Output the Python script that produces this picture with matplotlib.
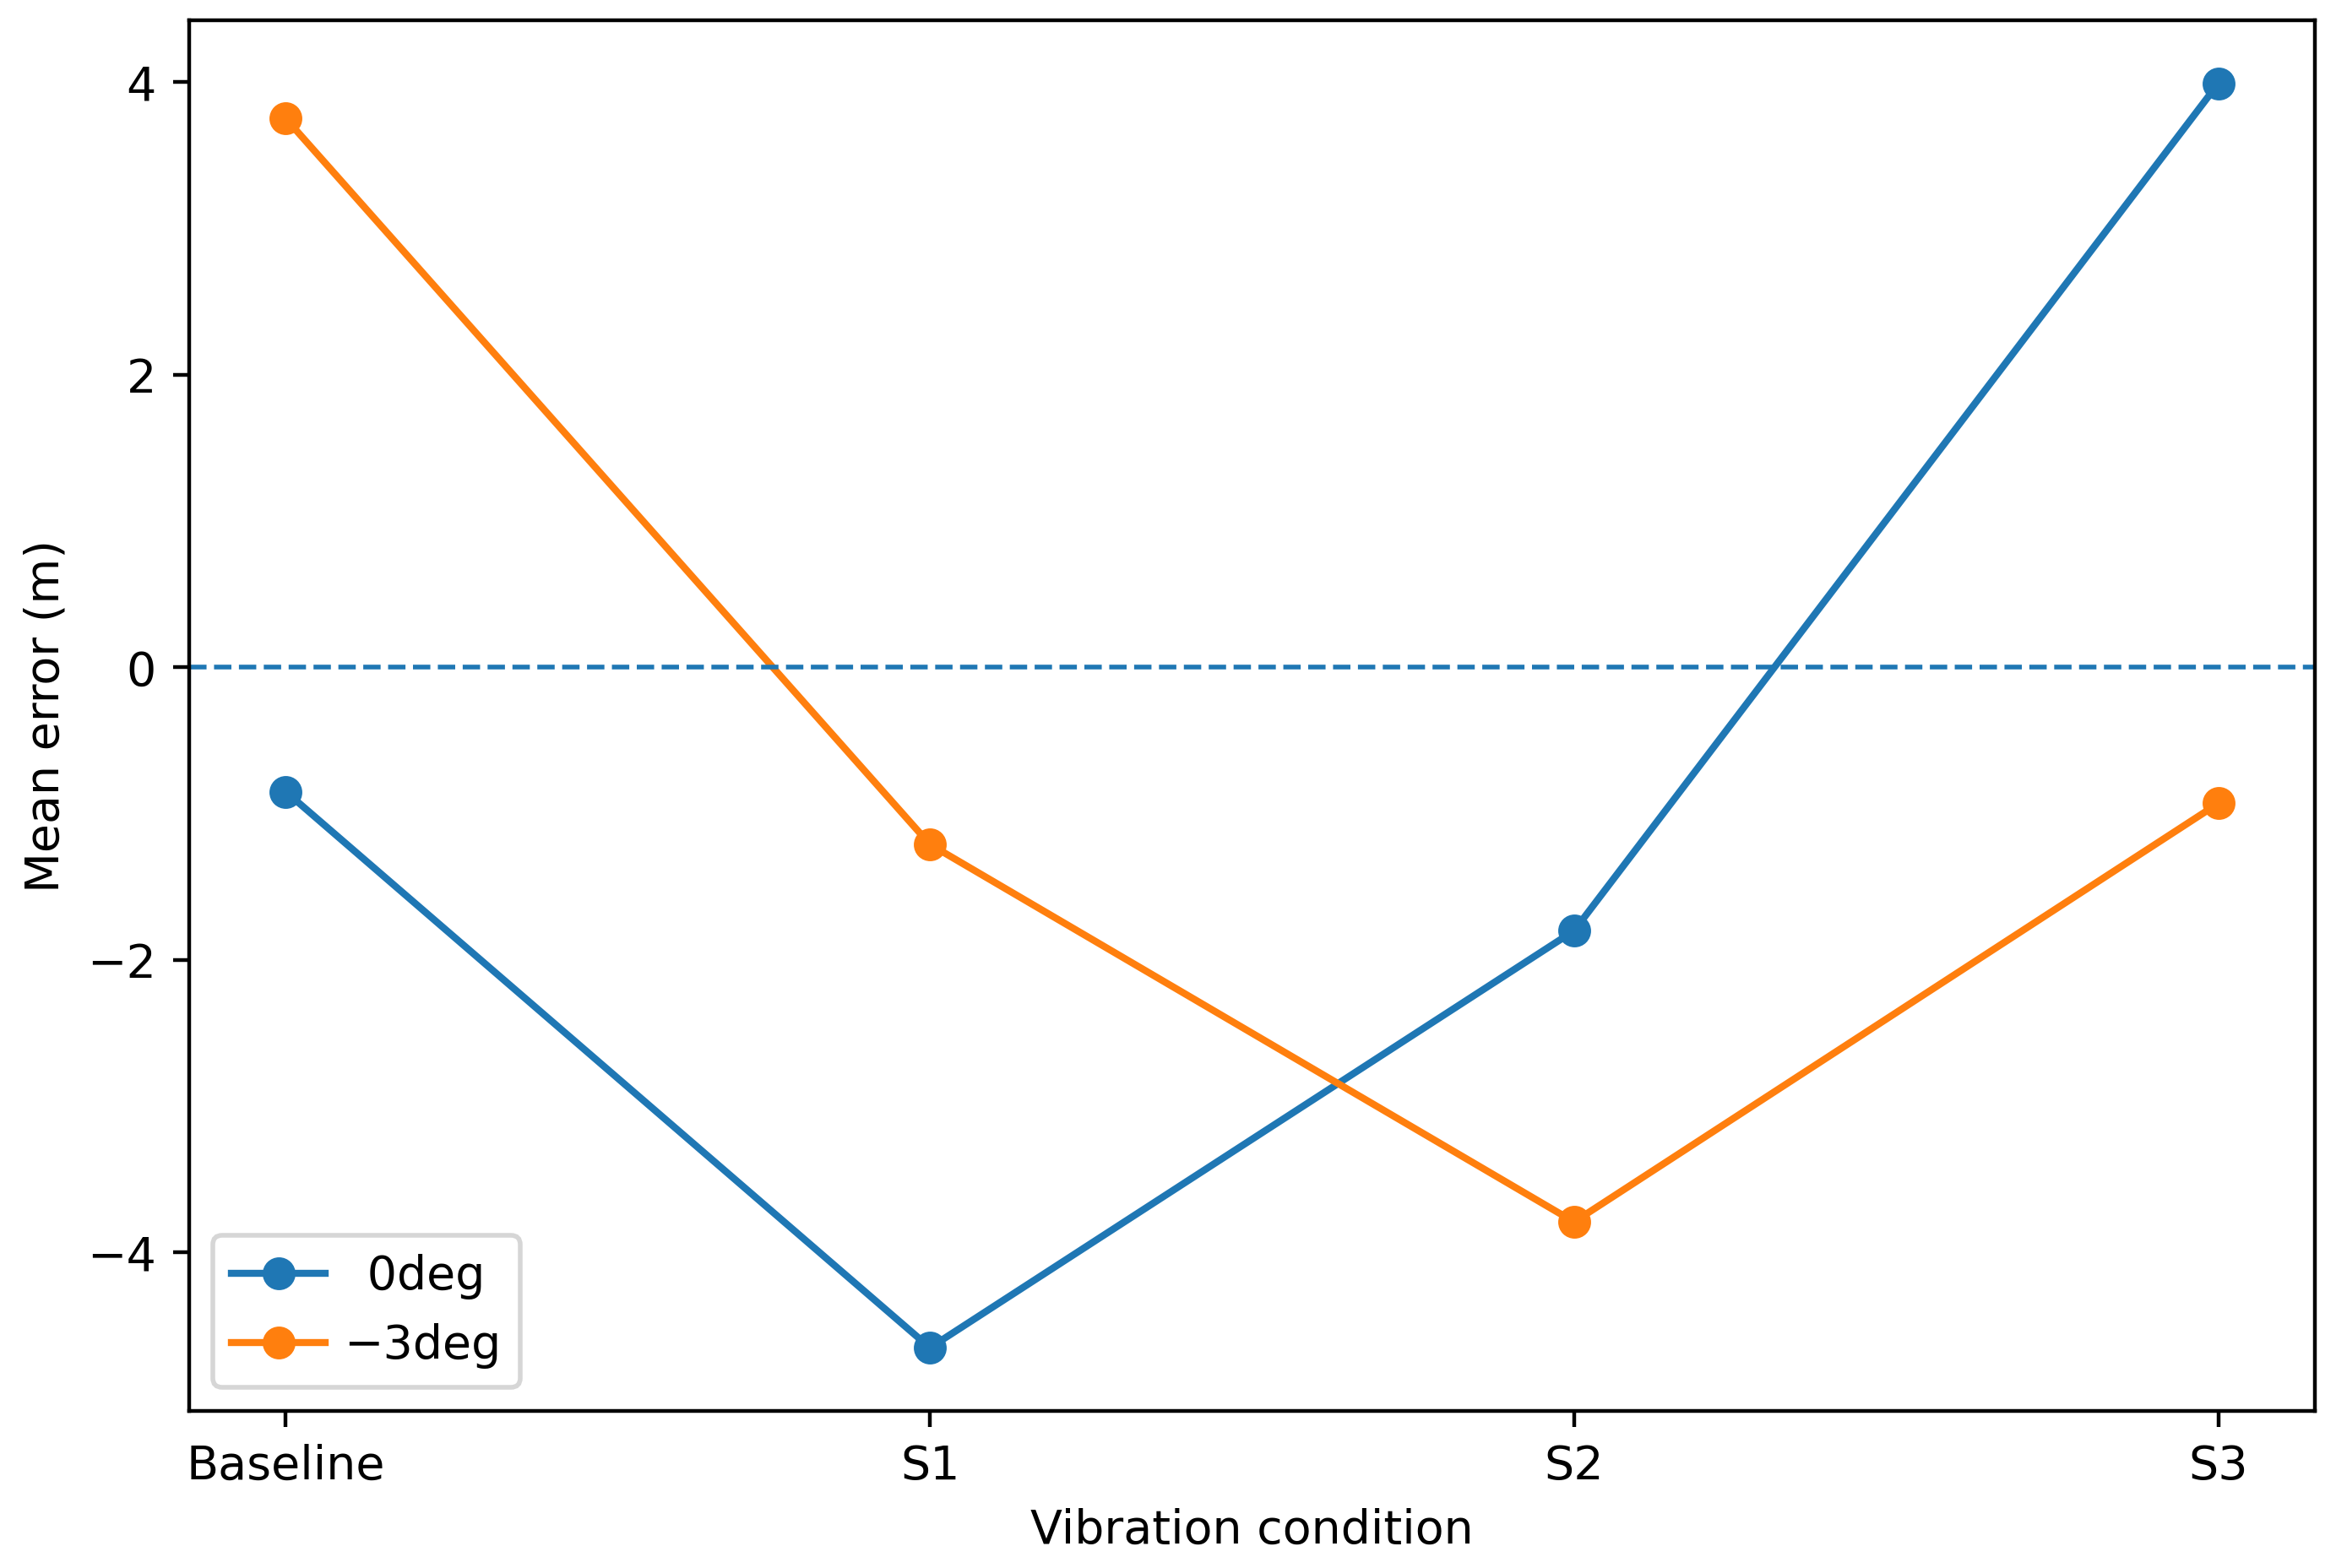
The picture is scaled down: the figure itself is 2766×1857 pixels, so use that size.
import matplotlib
matplotlib.use('Agg')
import matplotlib.pyplot as plt

# %% Data

conditions = ['Baseline', 'S1', 'S2', 'S3']
err0deg = [-0.85, -4.65, -1.80, 3.99]
errMinus3deg = [3.75, -1.21, -3.79, -0.93]
seriesLabels = ['\u20020deg', '\u22123deg']

# %% Plot

fig = plt.figure(figsize=(2766 / 400, 1857 / 400), dpi=400)
ax = fig.add_axes([224 / 2766, 1 - 1671 / 1857,
                   (2741 - 224) / 2766, (1671 - 24) / 1857])

xPos = list(range(len(conditions)))
ax.plot(xPos, err0deg, marker='o', label=seriesLabels[0])
ax.plot(xPos, errMinus3deg, marker='o', label=seriesLabels[1])

#Zero reference line
ax.axhline(0, linestyle='--', linewidth=1)

ax.set_xticks(xPos)
ax.set_xticklabels(conditions)
ax.set_xlabel('Vibration condition')
ax.set_ylabel('Mean error (m)')
ax.legend(loc='lower left', handletextpad=0.4)

fig.savefig('out.png', dpi=400)
